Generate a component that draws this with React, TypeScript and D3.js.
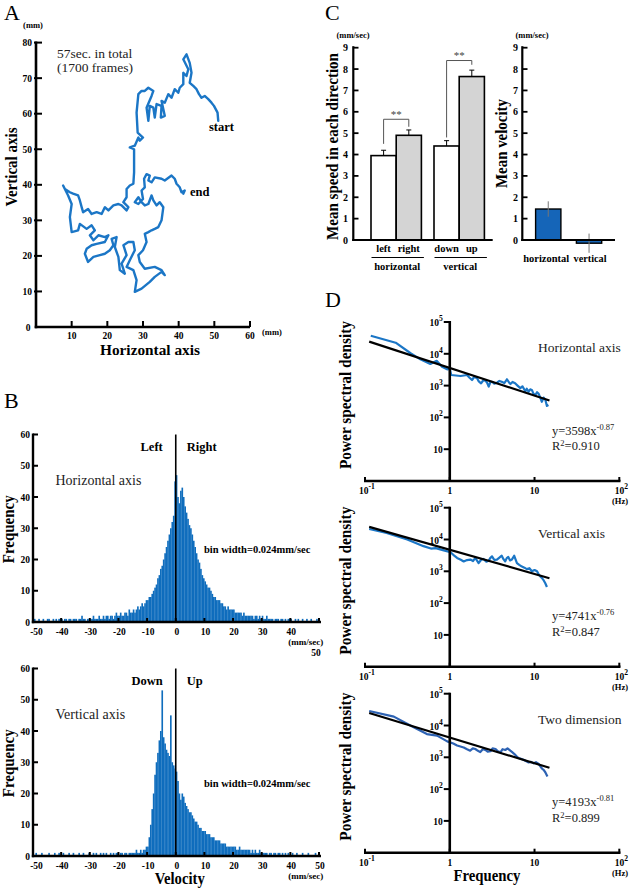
import React from 'react';
import * as d3 from 'd3';

const SERIF = "'Liberation Serif','Times New Roman',Times,serif";
const BLUE = '#1b76c6';
const BLUE_D3 = '#2d62b3';

// ---------- Panel A: trajectory (mm) ----------
const trajX = [51.1,50.9,49.9,49.2,48.3,47.3,46.4,45.7,45.0,44.1,43.1,43.6,43.1,42.2,41.3,42.7,42.2,41.3,41.3,40.3,39.9,38.9,38.0,37.1,36.1,35.2,36.1,35.0,35.2,33.8,33.3,32.9,31.9,31.5,31.0,32.4,32.9,31.5,30.5,29.6,28.7,28.2,28.5,30.0,29.1,28.7,27.7,26.3,27.5,27.5,27.3,26.3,25.4,25.4,24.5,25.9,25.4,24.0,23.1,21.7,20.3,19.3,18.4,17.0,15.6,14.6,13.2,12.8,12.3,11.8,10.4,9.5,8.1,7.6,9.0,10.0,9.5,10.0,11.8,12.3,14.2,15.6,16.5,15.1,16.1,17.5,19.3,20.3,19.3,17.0,15.6,14.2,13.7,14.6,16.1,17.9,19.3,20.7,21.7,21.2,22.6,22.1,23.1,23.5,24.9,24.0,25.4,24.5,25.9,27.3,27.7,26.3,25.4,27.3,28.2,27.7,29.6,31.9,33.3,35.2,36.1,35.2,33.3,30.5,29.1,28.7,30.0,31.0,30.5,31.5,32.4,33.3,34.3,35.2,35.7,34.7,33.8,32.9,32.4,31.5,30.5,29.6,28.7,27.7,28.7,30.0,29.6,30.5,30.3,31.0,31.9,31.5,32.4,33.3,35.2,36.1,38.0,38.9,39.4,40.3,40.8,41.7,41.3];
const trajY = [58.0,60.3,62.2,63.1,64.1,65.0,64.5,65.5,66.9,67.8,68.7,71.5,74.3,76.7,75.3,72.5,70.6,71.5,68.3,67.3,65.9,66.9,64.5,65.5,63.1,63.6,59.4,58.9,62.2,62.7,58.9,61.7,62.2,58.0,61.7,65.0,66.4,67.3,66.4,66.4,65.5,60.3,54.7,53.3,52.4,53.3,51.0,50.5,50.0,43.5,40.3,39.8,38.8,36.5,35.1,33.7,32.8,34.2,34.6,34.2,32.8,33.7,31.8,32.3,31.8,33.2,32.3,33.7,35.6,37.0,37.5,37.9,38.8,39.8,37.0,34.6,30.9,26.7,27.2,29.0,27.6,28.6,27.2,25.8,24.4,25.8,25.3,25.8,23.9,23.4,23.0,22.0,20.6,18.3,19.7,20.2,20.6,21.6,23.0,24.8,25.3,22.5,19.7,16.0,15.0,17.8,20.2,23.0,23.9,23.9,21.6,18.8,16.9,16.0,13.2,9.9,10.8,12.7,14.1,15.5,14.6,16.0,16.9,16.4,18.3,20.2,21.6,23.9,26.2,26.7,27.2,27.6,28.1,30.0,33.7,35.1,34.2,35.6,37.0,34.6,34.2,35.1,36.5,35.1,34.6,36.0,38.4,39.3,41.7,43.0,42.6,41.2,40.7,42.1,41.7,41.2,42.6,41.7,40.3,39.3,37.9,38.4,37.5];
const trajYTicks = [10,20,30,40,50,60,70,80];
const trajXTicks = [10,20,30,40,50,60];

// ---------- Panel B: velocity histograms (bins of 0.5 mm/sec from -50) ----------
const histStart = -50;
const histStep = 0.5;
const horizCounts = [
  0,1,0,0,1,0,0,1,0,0,1,1,0,0,1,0,1,0,1,1,
  1,0,1,1,0,1,1,0,1,1,1,0,1,1,2,1,1,0,1,1,
  1,1,2,1,1,1,2,1,1,2,1,2,2,1,2,2,1,2,3,2,
  2,3,2,2,3,3,2,4,3,3,
  4,3,4,5,4,5,6,5,6,7,
  7,8,8,9,10,11,12,14,15,17,
  18,20,22,24,26,28,30,32,34,45,
  47,40,38,42,43,40,37,35,33,31,
  30,28,26,24,22,20,19,17,15,14,
  13,12,11,11,10,9,8,8,7,7,
  7,6,6,5,5,4,5,4,4,4,
  4,3,3,3,3,3,2,3,2,2,2,2,2,2,1,2,2,1,2,1,
  2,1,1,2,1,1,1,1,0,1,1,1,0,1,1,0,1,0,1,1,
  1,0,0,1,0,1,0,0,1,0,0,1,0,0,1,0,0,0,1,0
];
const vertCounts = [
  0,0,1,0,0,0,1,0,0,0,0,1,0,0,0,1,0,0,1,0,
  0,1,0,0,0,1,0,0,1,0,0,0,1,0,0,1,0,0,0,1,
  0,0,1,0,1,0,0,1,0,1,0,1,0,0,1,0,1,0,1,1,
  0,1,1,0,1,1,0,1,1,1,
  1,1,2,1,1,2,1,2,2,3,
  3,6,10,15,20,26,30,33,37,40,
  53,38,36,34,33,32,45,30,29,28,
  27,24,20,18,20,19,17,16,15,14,
  14,13,12,11,11,10,9,9,8,8,
  8,7,7,7,6,6,6,5,5,5,
  5,4,4,4,4,3,3,3,3,3,
  3,3,2,2,3,2,2,2,2,2,2,2,1,2,1,2,1,1,2,1,
  1,1,1,1,0,1,1,0,1,1,0,1,1,0,1,0,1,0,1,0,
  0,1,0,0,1,0,0,0,1,0,0,0,1,0,0,0,0,1,0,0
];
const histYTicks = [0,10,20,30,40,50,60];
const histXTicks = [-50,-40,-30,-20,-10,0,10,20,30,40,50];

// ---------- Panel C ----------
const speedCats = ['left','right','down','up'];
const speedGroup = ['horizontal','horizontal','vertical','vertical'];
const speedVals = [3.95,4.9,4.4,7.65];
const speedErr = [0.25,0.25,0.25,0.3];
const speedGroups = ['horizontal','vertical'];
const bracketTop = [5.65,8.4];
const bracketLeftEnd = [4.5,4.8];
const bracketRightEnd = [5.3,8.2];
const velCats = ['horizontal','vertical'];
const velVals = [1.45,-0.15];
const velErr = [0.36,0.45];
const cYTicks = [0,1,2,3,4,5,6,7,8,9];

// ---------- Panel D: power spectra ----------
const psdF1 = [0.117,0.23,0.345,0.45,0.59,0.70,0.81,0.93,1.0,1.04,1.34,1.6,1.7,1.83,1.95,2.1,2.2,2.34,2.5,2.63,2.75,2.88,3.0,3.15,3.35,3.6,3.85,4.1,4.4,4.73,5.0,5.2,5.5,5.9,6.3,6.8,7.2,7.8,8.1,8.5,8.9,9.3,9.7,10.2,10.7,11.2,11.7,12.2,12.8,13.4,14.0,14.6];
const psdP1 = [37000,22300,10400,6700,4800,6000,3900,3250,3400,2150,2000,2150,1800,1500,1900,1700,1350,1180,1500,1420,1250,930,1250,1320,1150,1230,1400,1320,1200,1580,1250,1120,1300,1180,1000,830,950,660,800,640,760,730,560,500,620,550,420,310,420,360,230,245];
const psdF2 = [0.112,0.18,0.315,0.49,0.6,0.68,0.85,1.02,1.1,1.22,1.35,1.46,1.6,1.75,1.88,2.0,2.19,2.35,2.5,2.7,2.88,3.0,3.15,3.35,3.6,3.85,4.1,4.3,4.5,4.7,4.9,5.15,5.4,5.75,6.0,6.2,6.6,7.1,7.6,8.1,8.7,9.3,10.0,10.7,11.2,11.7,12.2,12.7,13.4,14.0];
const psdP2 = [21400,16200,10000,6170,5200,5370,4570,3980,3300,2630,2300,2040,2250,2340,2100,2630,1820,2300,2450,2000,2140,2600,2950,2300,2340,2700,3090,2400,2040,2600,2820,2200,2340,3090,2300,1820,1600,1410,1300,1170,1250,1000,1100,1000,800,690,620,540,420,320];
const psdF3 = [0.112,0.219,0.347,0.537,0.708,0.933,1.1,1.22,1.46,1.6,1.74,1.87,2.0,2.15,2.29,2.45,2.63,2.8,3.02,3.2,3.47,3.7,3.98,4.2,4.52,4.8,5.18,5.45,5.75,6.1,6.46,6.9,7.41,7.9,8.51,9.1,9.77,10.4,11.2,11.7,12.3,12.8,13.4,14.2];
const psdP3 = [28500,19000,9770,5370,4790,3160,2700,2340,2040,1800,1620,1900,1820,1600,1450,1800,1700,1500,1550,1900,1820,1550,1450,1800,1700,1900,1620,1450,1290,1100,955,900,832,760,692,720,646,700,617,520,437,400,339,251];
const fitA = [3598,4741,4193];
const fitB = [-0.87,-0.76,-0.81];
const fitR2 = ['0.910','0.847','0.899'];
const psdTitles = ['Horizontal axis','Vertical axis','Two dimension'];
const fitRange = [0.112,15];
const psdYExp = [1,2,3,4,5];
const psdXTicks = [0.1,1,10,100];
const psdXExp = ['-1','','','2'];

function Sup({ x, y, base, exp, anchor = 'middle', size = 10, weight = 'bold' }: any) {
  return (
    <text x={x} y={y} textAnchor={anchor} fontSize={size} fontWeight={weight} fontFamily={SERIF}>
      <tspan>{base}</tspan>
      {exp ? <tspan dy={-5} fontSize={size * 0.8}>{exp}</tspan> : null}
    </text>
  );
}

function Histogram({ counts, y0, labL, labR, title, showTop50, xTitle }: any) {
  const xs = d3.scaleLinear().domain([-50, 50]).range([32.5, 319]);
  const ys = d3.scaleLinear().domain([0, 60]).range([y0, y0 - 187.5]);
  const axX = 33;
  return (
    <g>
      {counts.map((c: number, i: number) => {
        const v = histStart + i * histStep;
        if (c <= 0) return null;
        return <rect key={i} x={xs(v)} y={ys(c)} width={xs(v + histStep) - xs(v) + 0.2} height={ys(0) - ys(c)} fill="#0f6dbd" />;
      })}
      <line x1={xs(0)} x2={xs(0)} y1={ys(60)} y2={ys(0)} stroke="#000" strokeWidth={1.6} />
      <line x1={axX} x2={axX} y1={ys(60) - 1} y2={ys(0) + 1.2} stroke="#000" strokeWidth={2.4} />
      <line x1={axX - 1.2} x2={321} y1={ys(0)} y2={ys(0)} stroke="#000" strokeWidth={2.4} />
      {histYTicks.map(t => (
        <g key={t}>
          {t > 0 && <line x1={axX} x2={axX + 5} y1={ys(t)} y2={ys(t)} stroke="#000" strokeWidth={2} />}
          <text x={axX - 3} y={ys(t) + 3.5} textAnchor="end" fontSize={9.5} fontWeight="bold" fontFamily={SERIF}>{t}</text>
        </g>
      ))}
      {histXTicks.map(t => (
        <g key={t}>
          {t > -50 && <line x1={xs(t)} x2={xs(t)} y1={ys(0)} y2={ys(0) - 4} stroke="#000" strokeWidth={2} />}
          {(t < 50 || !showTop50) && (
            <text x={xs(t) + (t === -50 ? 4 : 1)} y={ys(0) + 13} textAnchor="middle" fontSize={9.5} fontWeight="bold" fontFamily={SERIF}>{t}</text>
          )}
        </g>
      ))}
      {showTop50 && <text x={xs(50) - 3} y={ys(0) + 34} textAnchor="middle" fontSize={9.5} fontWeight="bold" fontFamily={SERIF}>50</text>}
      <text x={xs(45) + 1} y={ys(0) + 23} textAnchor="middle" fontSize={9} fontWeight="bold" fontFamily={SERIF}>(mm/sec)</text>
      <text x={xs(0) - 13} y={ys(60) + 16} textAnchor="end" fontSize={12.5} fontWeight="bold" fontFamily={SERIF}>{labL}</text>
      <text x={xs(0) + 11} y={ys(60) + 16} textAnchor="start" fontSize={12.5} fontWeight="bold" fontFamily={SERIF}>{labR}</text>
      <text x={55.5} y={ys(60) + 50} fontSize={14} fontFamily={SERIF} fill="#222">{title}</text>
      <text x={204} y={ys(60) + 118} fontSize={10.5} fontWeight="bold" fontFamily={SERIF}>bin width=0.024mm/sec</text>
      <text transform={`translate(14,${ys(30) + 1}) rotate(-90)`} textAnchor="middle" fontSize={16} fontWeight="bold" fontFamily={SERIF} textLength={68} lengthAdjust="spacingAndGlyphs">Frequency</text>
      {xTitle && <text x={xs(0) + 4} y={884} textAnchor="middle" fontSize={16} fontWeight="bold" fontFamily={SERIF} textLength={50} lengthAdjust="spacingAndGlyphs">{xTitle}</text>}
    </g>
  );
}

function Spectrum({ k, base, F, P, color, xTitle }: any) {
  const dx = d3.scaleLog().domain([0.1, 100]).range([365, 619.3]);
  const dy = d3.scaleLog().domain([1, 1e5]).range([base, base - 159]);
  const line = d3.line<number>().x((_, i) => dx(F[i])).y((_, i) => dy(P[i]));
  const fitLine = d3.line<number>().x(f => dx(f)).y(f => dy(fitA[k] * Math.pow(f, fitB[k])));
  const ax = dx(1);
  const top = dy(1e5);
  return (
    <g>
      <path d={line(F) || ''} fill="none" stroke={color} strokeWidth={2.2} strokeLinejoin="round" />
      <path d={fitLine(fitRange) || ''} fill="none" stroke="#000" strokeWidth={2.2} />
      <line x1={ax} x2={ax} y1={top - 1} y2={base} stroke="#000" strokeWidth={2.6} />
      <line x1={364} x2={620.5} y1={base} y2={base} stroke="#000" strokeWidth={2.6} />
      {psdYExp.map(e => (
        <g key={e}>
          <line x1={ax - 6} x2={ax} y1={dy(Math.pow(10, e))} y2={dy(Math.pow(10, e))} stroke="#000" strokeWidth={2} />
          <Sup x={ax - 7} y={dy(Math.pow(10, e)) + 4} base="10" exp={e > 1 ? String(e) : ''} anchor="end" size={9.5} />
        </g>
      ))}
      {psdXTicks.map((t, i) => (
        <g key={t}>
          <line x1={dx(t)} x2={dx(t)} y1={base} y2={base - 4} stroke="#000" strokeWidth={2} />
          <Sup x={dx(t) + (psdXExp[i] ? 2 : 0)} y={base + 13} base={t === 1 ? '1' : '10'} exp={psdXExp[i]} size={9.5} />
        </g>
      ))}
      <text x={620} y={base + 23} textAnchor="middle" fontSize={8.5} fontWeight="bold" fontFamily={SERIF}>(Hz)</text>
      <text x={538} y={top + 30} fontSize={13.5} fontFamily={SERIF} fill="#222">{psdTitles[k]}</text>
      <text x={552} y={top + 112.5} fontSize={12.5} fontFamily={SERIF} fill="#222">
        <tspan>{`y=${fitA[k]}x`}</tspan>
        <tspan dy={-5} fontSize={8.5}>{String(fitB[k])}</tspan>
      </text>
      <text x={552} y={top + 128} fontSize={12.5} fontFamily={SERIF} fill="#222">
        <tspan>R</tspan>
        <tspan dy={-4} fontSize={8.5}>2</tspan>
        <tspan dy={4}>{`=${fitR2[k]}`}</tspan>
      </text>
      <text transform={`translate(351,${base - 86}) rotate(-90)`} textAnchor="middle" fontSize={16} fontWeight="bold" fontFamily={SERIF} textLength={148} lengthAdjust="spacingAndGlyphs">Power spectral density</text>
      {xTitle && <text x={487} y={881} textAnchor="middle" fontSize={16} fontWeight="bold" fontFamily={SERIF} textLength={67} lengthAdjust="spacingAndGlyphs">{xTitle}</text>}
    </g>
  );
}

export default function App() {
  // Panel A scales
  const ax = d3.scaleLinear().domain([0, 60]).range([36, 250]);
  const ay = d3.scaleLinear().domain([0, 80]).range([327, 42.6]);
  const traj = d3.line<number>().x((_, i) => ax(trajX[i])).y((_, i) => ay(trajY[i]));

  // Panel C scales
  const cy = d3.scaleLinear().domain([0, 9]).range([240, 47.7]);
  const gBand = d3.scaleBand().domain(speedGroups).range([358.4, 497]).paddingInner(0.2).paddingOuter(0.2);
  const inBand = d3.scaleBand().domain(['0', '1']).range([0, gBand.bandwidth()]);
  const barX = (i: number) => (gBand(speedGroup[i]) as number) + (inBand(String(i % 2)) as number);
  const bw = inBand.bandwidth();
  const vBand = d3.scaleBand().domain(velCats).range([522.3, 615]).paddingInner(0.38).paddingOuter(0.326);
  const vbw = vBand.bandwidth();
  const velLabelLen = [46, 33];

  return (
    <svg width={630} height={889} style={{ position: 'absolute', left: 0, top: 0, background: '#fff' }} fontFamily={SERIF}>
      <rect width={630} height={889} fill="#fff" />
      {/* ---------- A ---------- */}
      <text x={4} y={20} fontSize={22} fontFamily={SERIF}>A</text>
      <text x={33} y={28} textAnchor="middle" fontSize={8.5} fontWeight="bold">(mm)</text>
      <path d={traj(trajX) || ''} fill="none" stroke={BLUE} strokeWidth={2.4} strokeLinejoin="round" strokeLinecap="round" />
      <line x1={ax(0)} x2={ax(0)} y1={ay(80) - 1} y2={ay(0) + 1.2} stroke="#000" strokeWidth={2.6} />
      <line x1={ax(0) - 1.3} x2={ax(60)} y1={ay(0)} y2={ay(0)} stroke="#000" strokeWidth={2.6} />
      {trajYTicks.map(t => (
        <g key={t}>
          <line x1={ax(0) - 2} x2={ax(0) + 6} y1={ay(t)} y2={ay(t)} stroke="#000" strokeWidth={2} />
          <text x={ax(0) - 4} y={ay(t) + 3.5} textAnchor="end" fontSize={9.5} fontWeight="bold">{t}</text>
        </g>
      ))}
      <text x={28} y={331} textAnchor="middle" fontSize={9.5} fontWeight="bold">0</text>
      {trajXTicks.map(t => (
        <g key={t}>
          <line x1={ax(t)} x2={ax(t)} y1={ay(0)} y2={ay(0) - 6} stroke="#000" strokeWidth={2} />
          <text x={ax(t)} y={ay(0) + 11.5} textAnchor="middle" fontSize={9.5} fontWeight="bold">{t}</text>
        </g>
      ))}
      <text x={262} y={335} fontSize={8.5} fontWeight="bold">(mm)</text>
      <text x={150} y={354.5} textAnchor="middle" fontSize={15.5} fontWeight="bold" textLength={100} lengthAdjust="spacingAndGlyphs">Horizontal axis</text>
      <text transform="translate(17,167) rotate(-90)" textAnchor="middle" fontSize={16} fontWeight="bold" textLength={79} lengthAdjust="spacingAndGlyphs">Vertical axis</text>
      <text x={57} y={58} fontSize={13.5} fill="#222">57sec. in total</text>
      <text x={57} y={72} fontSize={13.5} fill="#222">(1700 frames)</text>
      <text x={209} y={131} fontSize={12.5} fontWeight="bold">start</text>
      <text x={190} y={196} fontSize={12.5} fontWeight="bold">end</text>

      {/* ---------- B ---------- */}
      <text x={4} y={408} fontSize={22} fontFamily={SERIF}>B</text>
      <Histogram counts={horizCounts} y0={622} labL="Left" labR="Right" title="Horizontal axis" showTop50={true} />
      <Histogram counts={vertCounts} y0={856} labL="Down" labR="Up" title="Vertical axis" showTop50={false} xTitle="Velocity" />

      {/* ---------- C ---------- */}
      <text x={325} y={20} fontSize={22} fontFamily={SERIF}>C</text>
      <text x={353} y={37.5} textAnchor="middle" fontSize={8.5} fontWeight="bold">(mm/sec)</text>
      {speedVals.map((v, i) => (
        <g key={speedCats[i]}>
          <line x1={barX(i) + bw / 2} x2={barX(i) + bw / 2} y1={cy(v)} y2={cy(v + speedErr[i])} stroke="#000" strokeWidth={1} />
          <line x1={barX(i) + bw / 2 - 2.5} x2={barX(i) + bw / 2 + 2.5} y1={cy(v + speedErr[i])} y2={cy(v + speedErr[i])} stroke="#000" strokeWidth={1} />
          <rect x={barX(i)} y={cy(v)} width={bw} height={cy(0) - cy(v)} fill={i % 2 ? '#d4d4d4' : '#fff'} stroke="#000" strokeWidth={1.6} />
          <text x={barX(i) + bw / 2} y={252} textAnchor="middle" fontSize={10.5} fontWeight="bold">{speedCats[i]}</text>
        </g>
      ))}
      {speedGroups.map((g, j) => {
        const l = barX(j * 2) + bw / 2;
        const r = barX(j * 2 + 1) + bw / 2;
        return (
          <g key={g}>
            <path d={`M${l},${cy(bracketLeftEnd[j])}V${cy(bracketTop[j])}H${r}V${cy(bracketRightEnd[j])}`} fill="none" stroke="#555" strokeWidth={1} />
            <text x={(l + r) / 2} y={cy(bracketTop[j]) - 1.5} textAnchor="middle" fontSize={11} fill="#444">**</text>
            <line x1={(gBand(g) as number) + 0.5} x2={(gBand(g) as number) + gBand.bandwidth() + 2.5} y1={257.5} y2={257.5} stroke="#000" strokeWidth={1.2} />
            <text x={(gBand(g) as number) + gBand.bandwidth() / 2 + 1} y={270} textAnchor="middle" fontSize={10.5} fontWeight="bold">{g}</text>
          </g>
        );
      })}
      <line x1={353.3} x2={353.3} y1={cy(9) - 1.5} y2={cy(0) + 1} stroke="#000" strokeWidth={2.2} />
      <line x1={352.2} x2={492.7} y1={cy(0)} y2={cy(0)} stroke="#000" strokeWidth={2.2} />
      {cYTicks.map(t => (
        <g key={t}>
          <line x1={353.3} x2={358.5} y1={cy(t)} y2={cy(t)} stroke="#000" strokeWidth={1.8} />
          <text x={348} y={cy(t) + 3.5} textAnchor="end" fontSize={10} fontWeight="bold">{t}</text>
        </g>
      ))}
      <text transform={`translate(338,146.5) rotate(-90)`} textAnchor="middle" fontSize={16.5} fontWeight="bold" textLength={187} lengthAdjust="spacingAndGlyphs">Mean speed in each direction</text>

      <text x={532} y={37.5} textAnchor="middle" fontSize={8.5} fontWeight="bold">(mm/sec)</text>
      {velVals.map((v, i) => {
        const x = vBand(velCats[i]) as number;
        return (
          <g key={velCats[i]}>
            <rect x={x} y={Math.min(cy(v), cy(0))} width={vbw} height={Math.abs(cy(0) - cy(v))} fill="#1565b8" stroke="#000" strokeWidth={1.4} />
            <line x1={x + vbw / 2} x2={x + vbw / 2} y1={cy(v - velErr[i])} y2={cy(v + velErr[i])} stroke="#777" strokeWidth={1} />
            <text x={x + vbw / 2 - (i === 0 ? 2 : -1)} y={262} textAnchor="middle" fontSize={10.5} fontWeight="bold" textLength={velLabelLen[i]} lengthAdjust="spacingAndGlyphs">{velCats[i]}</text>
          </g>
        );
      })}
      <line x1={522.3} x2={522.3} y1={cy(9) - 1.5} y2={cy(0) + 1} stroke="#000" strokeWidth={2.2} />
      <line x1={521.2} x2={615} y1={cy(0)} y2={cy(0)} stroke="#000" strokeWidth={2.2} />
      {cYTicks.map(t => (
        <g key={t}>
          <line x1={522.3} x2={527.5} y1={cy(t)} y2={cy(t)} stroke="#000" strokeWidth={1.8} />
          <text x={518} y={cy(t) + 3.5} textAnchor="end" fontSize={10} fontWeight="bold">{t}</text>
        </g>
      ))}
      <text transform={`translate(507,143.5) rotate(-90)`} textAnchor="middle" fontSize={16.5} fontWeight="bold" textLength={89} lengthAdjust="spacingAndGlyphs">Mean velocity</text>

      {/* ---------- D ---------- */}
      <text x={325} y={307} fontSize={22} fontFamily={SERIF}>D</text>
      <Spectrum k={0} base={481} F={psdF1} P={psdP1} color={BLUE} />
      <Spectrum k={1} base={666.7} F={psdF2} P={psdP2} color={BLUE} />
      <Spectrum k={2} base={852.7} F={psdF3} P={psdP3} color={BLUE_D3} xTitle="Frequency" />
    </svg>
  );
}
